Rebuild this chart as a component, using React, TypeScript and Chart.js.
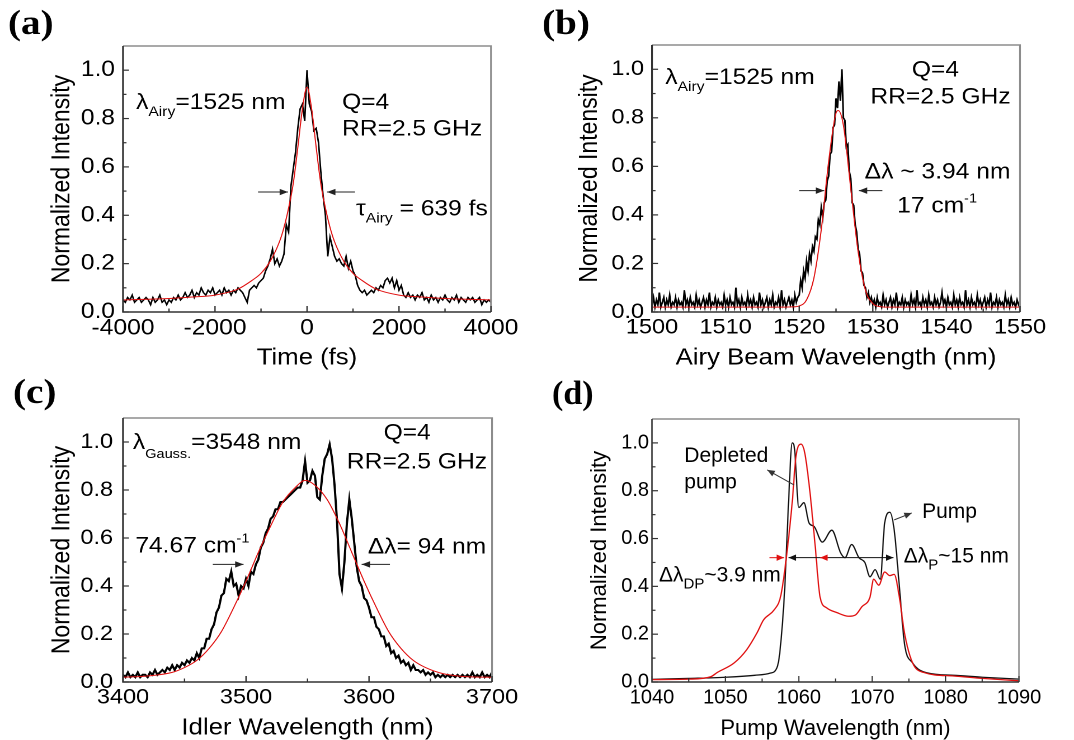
import React, { useEffect, useRef } from "react";
import { Chart, registerables } from "chart.js";

Chart.register(...registerables);

const SANS = '"Liberation Sans", Arial, Helvetica, sans-serif';
const SERIF = '"Liberation Serif", "Times New Roman", serif';

// ---------------- shared y axis ----------------
const intensityTicks = [0, 0.2, 0.4, 0.6, 0.8, 1.0];
const intensityMinorTicks = [0.1, 0.3, 0.5, 0.7, 0.9];

// ---------------- (a) temporal profile ----------------
const timeStartFs = -4000;
const timeStepFs = 50;
const airyPulse = [
  0.05, 0.04, 0.06, 0.05, 0.07, 0.04, 0.05, 0.06, 0.04, 0.05, 0.06, 0.05, 0.03, 0.06, 0.04, 0.05, 0.07, 0.04, 0.05, 0.03, 0.05,
  0.04, 0.06, 0.05, 0.07, 0.05, 0.06, 0.08, 0.06, 0.07, 0.09, 0.06, 0.08, 0.07, 0.10, 0.08, 0.07, 0.09, 0.08, 0.10, 0.07,
  0.08, 0.09, 0.07, 0.10, 0.08, 0.09, 0.07, 0.09, 0.08, 0.10, 0.09, 0.08, 0.06, 0.04, 0.09, 0.10, 0.11, 0.10, 0.12, 0.13,
  0.14, 0.17, 0.19, 0.22, 0.26, 0.20, 0.22, 0.19, 0.21,
  0.24, 0.36, 0.33, 0.52, 0.59, 0.66, 0.76, 0.84, 0.86, 0.79,
  1.0,
  0.86, 0.83, 0.75, 0.76, 0.70, 0.58, 0.48, 0.40, 0.23, 0.31,
  0.27, 0.23, 0.21, 0.22, 0.20, 0.19, 0.23, 0.18, 0.21, 0.17,
  0.15, 0.11, 0.09, 0.08, 0.09, 0.07, 0.08, 0.09, 0.08, 0.10,
  0.09, 0.11, 0.10, 0.13, 0.14, 0.12, 0.14, 0.10, 0.13, 0.09,
  0.11, 0.07, 0.06, 0.08, 0.06, 0.07, 0.05, 0.07, 0.06, 0.08,
  0.05, 0.06, 0.04, 0.07, 0.05, 0.06, 0.04, 0.06, 0.05, 0.07,
  0.05, 0.04, 0.06, 0.05, 0.07, 0.04, 0.06, 0.05, 0.04, 0.06,
  0.05, 0.06, 0.04, 0.05, 0.06, 0.03, 0.05, 0.04, 0.05, 0.04,
];
const airyPulseFitTime = [-4000, -3000, -2500, -2000, -1500, -1200, -1000, -800, -600, -500, -400, -300, -200, -100, 0, 100, 200, 300, 400, 500, 600, 800, 1000, 1200, 1500, 2000, 2500, 3000, 4000];
const airyPulseFit = [0.05, 0.056, 0.062, 0.07, 0.095, 0.13, 0.16, 0.21, 0.29, 0.35, 0.43, 0.53, 0.68, 0.84, 0.93, 0.84, 0.68, 0.53, 0.43, 0.35, 0.29, 0.21, 0.16, 0.13, 0.095, 0.07, 0.062, 0.056, 0.05];
const timeTicks = [-4000, -2000, 0, 2000, 4000];
const timeMinorTicks = [-3000, -1000, 1000, 3000];

// ---------------- (b) Airy beam spectrum ----------------
const airyWlStart = 1500;
const airyWlStep = 0.2;
const airySpectrum = [
  0.03, 0.06, 0.02, 0.05, 0.03, 0.08, 0.02, 0.04, 0.06, 0.02,
  0.05, 0.03, 0.07, 0.02, 0.04, 0.03, 0.06, 0.02, 0.05, 0.03,
  0.04, 0.02, 0.09, 0.03, 0.05, 0.02, 0.06, 0.03, 0.04, 0.02,
  0.07, 0.03, 0.05, 0.02, 0.04, 0.06, 0.02, 0.05, 0.03, 0.08,
  0.02, 0.04, 0.03, 0.06, 0.02, 0.05, 0.03, 0.04, 0.02, 0.07,
  0.03, 0.05, 0.02, 0.06, 0.03, 0.04, 0.02, 0.10, 0.03, 0.05,
  0.02, 0.06, 0.03, 0.04, 0.02, 0.07, 0.03, 0.05, 0.02, 0.06,
  0.03, 0.04, 0.02, 0.08, 0.03, 0.05, 0.02, 0.04, 0.06, 0.02,
  0.05, 0.03, 0.07, 0.02, 0.04, 0.03, 0.06, 0.02, 0.09, 0.03,
  0.05, 0.02, 0.04, 0.06, 0.03, 0.05, 0.02, 0.07, 0.04, 0.06,
  0.07, 0.13, 0.10, 0.17, 0.14, 0.21, 0.17, 0.24, 0.21, 0.27,
  0.25, 0.31, 0.30, 0.38, 0.36, 0.43, 0.39, 0.45, 0.46, 0.54,
  0.56, 0.65, 0.66, 0.76, 0.77, 0.88, 0.84, 0.95, 0.87, 1.00,
  0.80, 0.79, 0.68, 0.69, 0.58, 0.55, 0.45, 0.44, 0.36, 0.33,
  0.26, 0.24, 0.17, 0.16, 0.11, 0.10, 0.06, 0.08, 0.04, 0.06,
  0.03,
  0.05, 0.02, 0.06, 0.03, 0.04, 0.02, 0.07, 0.03, 0.05, 0.02,
  0.04, 0.06, 0.02, 0.05, 0.03, 0.08, 0.02, 0.04, 0.03, 0.06,
  0.02, 0.05, 0.03, 0.04, 0.02, 0.07, 0.03, 0.05, 0.02, 0.09,
  0.03, 0.04, 0.02, 0.06, 0.03, 0.05, 0.02, 0.07, 0.03, 0.04,
  0.02, 0.06, 0.03, 0.05, 0.02, 0.04, 0.08, 0.03, 0.05, 0.02,
  0.06, 0.03, 0.04, 0.02, 0.07, 0.03, 0.05, 0.02, 0.06, 0.03,
  0.04, 0.02, 0.09, 0.03, 0.05, 0.02, 0.06, 0.03, 0.04, 0.02,
  0.07, 0.03, 0.05, 0.02, 0.04, 0.06, 0.02, 0.05, 0.03, 0.08,
  0.02, 0.04, 0.03, 0.06, 0.02, 0.05, 0.03, 0.04, 0.02, 0.07,
  0.03, 0.05, 0.02, 0.06, 0.03, 0.04, 0.02, 0.05, 0.03, 0.04,
];
const airyFitWl = [1500, 1510, 1518, 1519, 1520, 1521, 1522, 1523, 1524, 1525, 1525.3, 1526, 1527, 1528, 1529, 1530, 1531, 1532, 1540, 1550];
const airyFit = [0.02, 0.02, 0.02, 0.021, 0.025, 0.05, 0.14, 0.34, 0.62, 0.82, 0.83, 0.77, 0.51, 0.25, 0.09, 0.035, 0.022, 0.02, 0.02, 0.02];
const airyWlTicks = [1500, 1510, 1520, 1530, 1540, 1550];
const airyWlMinorTicks = [1505, 1515, 1525, 1535, 1545];

// ---------------- (c) idler spectrum ----------------
const idlerWlStart = 3400;
const idlerWlStep = 2;
const idlerSpectrum = [
  0.03, 0.02, 0.04, 0.02, 0.03, 0.02, 0.04, 0.02, 0.03, 0.03,
  0.02, 0.04, 0.03, 0.05, 0.03, 0.04, 0.05, 0.04, 0.06, 0.05,
  0.07, 0.05, 0.07, 0.06, 0.08, 0.07, 0.09, 0.08, 0.10, 0.09,
  0.12, 0.10, 0.14, 0.14, 0.18, 0.18, 0.22, 0.24, 0.29, 0.31,
  0.36, 0.37, 0.43, 0.42, 0.46, 0.40, 0.41, 0.36, 0.40, 0.39,
  0.43, 0.40, 0.46, 0.45, 0.49, 0.51, 0.56, 0.58, 0.62, 0.64,
  0.68, 0.69, 0.72, 0.72, 0.75, 0.75, 0.76, 0.77, 0.78, 0.79,
  0.80, 0.81, 0.81, 0.84, 0.92, 0.83, 0.84, 0.88, 0.86, 0.77,
  0.76, 0.86, 0.93, 0.95, 0.99, 0.93, 0.82, 0.67, 0.45, 0.39,
  0.50, 0.66, 0.76, 0.68, 0.58, 0.48, 0.42, 0.40, 0.35, 0.34,
  0.31, 0.27, 0.27, 0.23, 0.22, 0.19, 0.19, 0.15, 0.16, 0.12,
  0.13, 0.10, 0.11, 0.08, 0.09, 0.07, 0.08, 0.05, 0.07, 0.05,
  0.05, 0.04, 0.05, 0.03, 0.04, 0.03, 0.04, 0.02, 0.03, 0.02,
  0.03, 0.02, 0.03, 0.02, 0.03, 0.02, 0.03, 0.02, 0.03, 0.02,
  0.03, 0.02, 0.04, 0.02, 0.03, 0.02, 0.04, 0.02, 0.03, 0.02,
  0.04,
];
const idlerFitWl = [3400, 3420, 3440, 3450, 3460, 3470, 3480, 3490, 3500, 3510, 3520, 3530, 3540, 3548, 3556, 3566, 3576, 3586, 3596, 3606, 3616, 3626, 3636, 3646, 3660, 3680, 3700];
const idlerFit = [0.02, 0.025, 0.04, 0.06, 0.09, 0.14, 0.21, 0.31, 0.42, 0.54, 0.65, 0.75, 0.81, 0.84, 0.82, 0.76, 0.66, 0.54, 0.42, 0.31, 0.21, 0.14, 0.09, 0.06, 0.035, 0.022, 0.02];
const idlerTicks = [3400, 3500, 3600, 3700];
const idlerMinorTicks = [3450, 3550, 3650];

// ---------------- (d) pump spectra ----------------
const pumpWl = [1040, 1045, 1050, 1054, 1056.1, 1057.0, 1057.4, 1058.1, 1058.6, 1059.1, 1059.4, 1060.0, 1060.7, 1061.4, 1062.1, 1063.2, 1064.5, 1065.7, 1066.3, 1067.2, 1068.2, 1069.0, 1069.7, 1070.4, 1071.1, 1071.7, 1072.4, 1073.0, 1073.7, 1074.4, 1075.5, 1077.5, 1081.1, 1085, 1090];
const pumpSpectrum = [0.011, 0.015, 0.02, 0.028, 0.037, 0.058, 0.12, 0.40, 0.75, 1.0, 0.98, 0.73, 0.75, 0.665, 0.65, 0.585, 0.635, 0.54, 0.52, 0.575, 0.52, 0.50, 0.44, 0.47, 0.43, 0.665, 0.71, 0.635, 0.40, 0.16, 0.08, 0.038, 0.028, 0.02, 0.012];
const depletedWl = [1040, 1045, 1048, 1048.9, 1051.2, 1052.9, 1054.3, 1055.2, 1056.6, 1057.5, 1058.1, 1059.1, 1059.6, 1060.3, 1060.8, 1061.5, 1062.2, 1062.9, 1063.8, 1065.2, 1066.8, 1067.7, 1068.6, 1069.7, 1070.2, 1070.9, 1071.7, 1072.4, 1073.0, 1073.7, 1074.4, 1075.5, 1077.0, 1081.1, 1085, 1090];
const depletedSpectrum = [0.01, 0.012, 0.022, 0.04, 0.08, 0.135, 0.205, 0.26, 0.30, 0.355, 0.47, 0.75, 0.94, 0.995, 0.96, 0.80, 0.58, 0.355, 0.31, 0.29, 0.275, 0.28, 0.315, 0.355, 0.43, 0.405, 0.46, 0.445, 0.45, 0.355, 0.205, 0.08, 0.04, 0.025, 0.015, 0.005];
const pumpTicks = [1040, 1050, 1060, 1070, 1080, 1090];
const pumpMinorTicks = [1045, 1055, 1065, 1075, 1085];

// ---------------- helpers ----------------
type Pt = { x: number; y: number };
const sampled = (start: number, step: number, ys: number[]): Pt[] => ys.map((y, i) => ({ x: start + i * step, y }));
const paired = (xs: number[], ys: number[]): Pt[] => xs.map((x, i) => ({ x, y: ys[i] }));

type Run = { t: string; size?: number; dy?: number };
type Note =
  | { kind: "text"; x: number; y: number; runs: Run[]; align?: "left" | "center" }
  | { kind: "arrow"; x1: number; y1: number; x2: number; y2: number; color?: string; both?: boolean };

interface Series { points: Pt[]; color: string; width: number; smooth: boolean }
interface PanelSpec {
  stretch: number;
  series: Series[];
  xMin: number; xMax: number; xTicks: number[]; xMinor: number[];
  xTitle: string; yTitle: string;
  tickSize: number; titleSize: number; yTitleSize: number; noteSize: number;
  area: { left: number; top: number; right: number };
  yTitleCenter: number; xTickPad: number; yTickGap: number;
  label: string; labelX: number; labelY: number; labelSize: number;
  notes: Note[];
}

const sub = (t: string, size = 14, dy = 7): Run => ({ t, size, dy });
const sup = (t: string, size = 13, dy = -10): Run => ({ t, size, dy });

const STRETCH = 537 / 480;
const W = 537;
const H = 370;

const panelA: PanelSpec = {
  stretch: STRETCH,
  series: [
    { points: paired(airyPulseFitTime, airyPulseFit), color: "#e01010", width: 1, smooth: true },
    { points: sampled(timeStartFs, timeStepFs, airyPulse), color: "#000", width: 1.4, smooth: false },
  ],
  xMin: -4000, xMax: 4000, xTicks: timeTicks, xMinor: timeMinorTicks,
  xTitle: "Time (fs)", yTitle: "Normalized Intensity",
  tickSize: 22, titleSize: 23, yTitleSize: 23, noteSize: 22,
  area: { left: 123, top: 46, right: 491 }, yTitleCenter: 62, xTickPad: 3, yTickGap: 8,
  label: "(a)", labelX: 8, labelY: 34, labelSize: 35,
  notes: [
    { kind: "text", x: -3717, y: 0.84, runs: [{ t: "λ" }, sub("Airy"), { t: "=1525 nm" }] },
    { kind: "text", x: 761, y: 0.84, runs: [{ t: "Q=4" }] },
    { kind: "text", x: 761, y: 0.73, runs: [{ t: "RR=2.5 GHz" }] },
    { kind: "text", x: 1065, y: 0.4, runs: [{ t: "τ" }, sub("Airy"), { t: " = 639 fs" }] },
    { kind: "arrow", x1: -1065, y1: 0.496, x2: -413, y2: 0.496 },
    { kind: "arrow", x1: 1043, y1: 0.496, x2: 435, y2: 0.496 },
  ],
};

const panelB: PanelSpec = {
  stretch: STRETCH,
  series: [
    { points: paired(airyFitWl, airyFit), color: "#e01010", width: 1, smooth: true },
    { points: sampled(airyWlStart, airyWlStep, airySpectrum), color: "#000", width: 1.5, smooth: false },
  ],
  xMin: 1500, xMax: 1550, xTicks: airyWlTicks, xMinor: airyWlMinorTicks,
  xTitle: "Airy Beam Wavelength (nm)", yTitle: "Normalized Intensity",
  tickSize: 21, titleSize: 23, yTitleSize: 23, noteSize: 22,
  area: { left: 115, top: 45, right: 483 }, yTitleCenter: 53, xTickPad: 3, yTickGap: 8,
  label: "(b)", labelX: 5, labelY: 34, labelSize: 35,
  notes: [
    { kind: "text", x: 1501.8, y: 0.94, runs: [{ t: "λ" }, sub("Airy"), { t: "=1525 nm" }] },
    { kind: "text", x: 1538.5, y: 0.97, runs: [{ t: "Q=4" }], align: "center" },
    { kind: "text", x: 1539.2, y: 0.86, runs: [{ t: "RR=2.5 GHz" }], align: "center" },
    { kind: "text", x: 1528.9, y: 0.55, runs: [{ t: "Δλ ~ 3.94 nm" }] },
    { kind: "text", x: 1533.3, y: 0.41, runs: [{ t: "17 cm" }, sup("-1")] },
    { kind: "arrow", x1: 1520.0, y1: 0.5, x2: 1523.4, y2: 0.5 },
    { kind: "arrow", x1: 1531.3, y1: 0.5, x2: 1528.1, y2: 0.5 },
  ],
};

const panelC: PanelSpec = {
  stretch: STRETCH,
  series: [
    { points: paired(idlerFitWl, idlerFit), color: "#e01010", width: 1, smooth: true },
    { points: sampled(idlerWlStart, idlerWlStep, idlerSpectrum), color: "#000", width: 2, smooth: false },
  ],
  xMin: 3400, xMax: 3700, xTicks: idlerTicks, xMinor: idlerMinorTicks,
  xTitle: "Idler Wavelength (nm)", yTitle: "Normalized Intensity",
  tickSize: 21, titleSize: 23, yTitleSize: 23, noteSize: 22,
  area: { left: 123, top: 48, right: 492 }, yTitleCenter: 62, xTickPad: 3, yTickGap: 10,
  label: "(c)", labelX: 13, labelY: 33, labelSize: 35,
  notes: [
    { kind: "text", x: 3408, y: 0.97, runs: [{ t: "λ" }, sub("Gauss.", 13, 9), { t: "=3548 nm" }] },
    { kind: "text", x: 3631, y: 1.01, runs: [{ t: "Q=4" }], align: "center" },
    { kind: "text", x: 3639, y: 0.89, runs: [{ t: "RR=2.5 GHz" }], align: "center" },
    { kind: "text", x: 3410, y: 0.54, runs: [{ t: "74.67 cm" }, sup("-1")] },
    { kind: "text", x: 3599, y: 0.535, runs: [{ t: "Δλ= 94 nm" }] },
    { kind: "arrow", x1: 3473, y1: 0.49, x2: 3498, y2: 0.49 },
    { kind: "arrow", x1: 3617, y1: 0.49, x2: 3594, y2: 0.49 },
  ],
};

const panelD: PanelSpec = {
  stretch: 1,
  series: [
    { points: paired(depletedWl, depletedSpectrum), color: "#e01010", width: 1.3, smooth: true },
    { points: paired(pumpWl, pumpSpectrum), color: "#111", width: 1.3, smooth: true },
  ],
  xMin: 1040, xMax: 1090, xTicks: pumpTicks, xMinor: pumpMinorTicks,
  xTitle: "Pump Wavelength (nm)", yTitle: "Normalized Intensity",
  tickSize: 20, titleSize: 22, yTitleSize: 22, noteSize: 21,
  area: { left: 115, top: 49, right: 482 }, yTitleCenter: 63, xTickPad: 4, yTickGap: 3,
  label: "(d)", labelX: 15, labelY: 34, labelSize: 34,
  notes: [
    { kind: "text", x: 1044.4, y: 0.92, runs: [{ t: "Depleted" }] },
    { kind: "text", x: 1044.4, y: 0.81, runs: [{ t: "pump" }] },
    { kind: "arrow", x1: 1059.35, y1: 0.824, x2: 1055.7, y2: 0.887, color: "#333" },
    { kind: "text", x: 1076.8, y: 0.686, runs: [{ t: "Pump" }] },
    { kind: "arrow", x1: 1073.0, y1: 0.678, x2: 1075.4, y2: 0.707, color: "#333" },
    { kind: "text", x: 1074.3, y: 0.5, runs: [{ t: "Δλ" }, sub("P", 15, 7), { t: "~15 nm" }] },
    { kind: "text", x: 1040.95, y: 0.42, runs: [{ t: "Δλ" }, sub("DP", 15, 7), { t: "~3.9 nm" }] },
    { kind: "arrow", x1: 1058.6, y1: 0.52, x2: 1072.9, y2: 0.52, color: "#111", both: true },
    { kind: "arrow", x1: 1056.0, y1: 0.52, x2: 1058.0, y2: 0.52, color: "#e01010" },
    { kind: "arrow", x1: 1064.0, y1: 0.52, x2: 1062.9, y2: 0.52, color: "#e01010" },
  ],
};

function arrowHead(ctx: CanvasRenderingContext2D, x1: number, y1: number, x2: number, y2: number) {
  const a = Math.atan2(y2 - y1, x2 - x1);
  const L = 7.5;
  const hw = 3.2;
  ctx.beginPath();
  ctx.moveTo(x2, y2);
  ctx.lineTo(x2 - L * Math.cos(a) + hw * Math.sin(a), y2 - L * Math.sin(a) - hw * Math.cos(a));
  ctx.lineTo(x2 - L * Math.cos(a) - hw * Math.sin(a), y2 - L * Math.sin(a) + hw * Math.cos(a));
  ctx.closePath();
  ctx.fill();
}

function makeDecor(p: PanelSpec) {
  return {
    id: "panelDecor",
    afterDatasetsDraw(chart: any) {
      const ctx: CanvasRenderingContext2D = chart.ctx;
      const ca = chart.chartArea;
      const xs = chart.scales.x;
      const ys = chart.scales.y;
      ctx.save();
      // frame
      ctx.lineWidth = 1.6;
      ctx.strokeStyle = "#8c8c8c";
      ctx.beginPath();
      ctx.moveTo(ca.left, ca.top);
      ctx.lineTo(ca.right, ca.top);
      ctx.lineTo(ca.right, ca.bottom);
      ctx.stroke();
      ctx.strokeStyle = "#333";
      ctx.beginPath();
      ctx.moveTo(ca.left, ca.top);
      ctx.lineTo(ca.left, ca.bottom);
      ctx.lineTo(ca.right, ca.bottom);
      ctx.stroke();
      // inward ticks
      ctx.lineWidth = 1.2;
      const xt = (vals: number[], len: number) => {
        for (const v of vals) {
          const px = xs.getPixelForValue(v);
          ctx.beginPath();
          ctx.moveTo(px, ca.bottom);
          ctx.lineTo(px, ca.bottom - len);
          ctx.stroke();
        }
      };
      const yt = (vals: number[], len: number) => {
        for (const v of vals) {
          const py = ys.getPixelForValue(v);
          ctx.beginPath();
          ctx.moveTo(ca.left, py);
          ctx.lineTo(ca.left + len / p.stretch, py);
          ctx.stroke();
        }
      };
      xt(p.xTicks, 6);
      xt(p.xMinor, 3.5);
      yt(intensityTicks, 6);
      yt(intensityMinorTicks, 3.5);
      // notes
      for (const n of p.notes) {
        if (n.kind === "arrow") {
          const x1 = xs.getPixelForValue(n.x1);
          const y1 = ys.getPixelForValue(n.y1);
          const x2 = xs.getPixelForValue(n.x2);
          const y2 = ys.getPixelForValue(n.y2);
          const c = n.color || "#222";
          ctx.strokeStyle = c;
          ctx.fillStyle = c;
          ctx.lineWidth = 1;
          ctx.beginPath();
          ctx.moveTo(x1, y1);
          ctx.lineTo(x2, y2);
          ctx.stroke();
          arrowHead(ctx, x1, y1, x2, y2);
          if (n.both) arrowHead(ctx, x2, y2, x1, y1);
        } else {
          const px = xs.getPixelForValue(n.x);
          const py = ys.getPixelForValue(n.y);
          ctx.textBaseline = "alphabetic";
          ctx.textAlign = "left";
          ctx.fillStyle = "#000";
          const fontOf = (r: Run) => `${r.size ?? p.noteSize}px ${SANS}`;
          let total = 0;
          for (const r of n.runs) {
            ctx.font = fontOf(r);
            total += ctx.measureText(r.t).width;
          }
          let cx = n.align === "center" ? px - total / 2 : px;
          for (const r of n.runs) {
            ctx.font = fontOf(r);
            ctx.fillText(r.t, cx, py + (r.dy ?? 0));
            cx += ctx.measureText(r.t).width;
          }
        }
      }
      // panel label
      ctx.font = `bold ${p.labelSize}px ${SERIF}`;
      ctx.fillStyle = "#000";
      ctx.textAlign = "left";
      ctx.textBaseline = "alphabetic";
      ctx.fillText(p.label, p.labelX / p.stretch, p.labelY);
      ctx.restore();
    },
  };
}

function buildConfig(p: PanelSpec): any {
  const lw = Math.round(W / p.stretch);
  const s = p.stretch;
  return {
    type: "line",
    data: {
      datasets: p.series.map((sr) => ({
        data: sr.points,
        borderColor: sr.color,
        borderWidth: sr.width,
        pointRadius: 0,
        fill: false,
        tension: 0,
        cubicInterpolationMode: sr.smooth ? "monotone" : "default",
      })),
    },
    options: {
      animation: false,
      responsive: false,
      devicePixelRatio: 2,
      events: [],
      layout: { padding: { left: 0, top: p.area.top, right: lw - p.area.right / s, bottom: 0 } },
      plugins: { legend: { display: false }, tooltip: { enabled: false } },
      scales: {
        x: {
          type: "linear",
          min: p.xMin,
          max: p.xMax,
          afterBuildTicks: (sc: any) => {
            sc.ticks = p.xTicks.map((v) => ({ value: v }));
          },
          afterFit: (sc: any) => {
            sc.height = H - 312;
          },
          grid: { display: false, drawTicks: false },
          border: { display: false },
          ticks: {
            autoSkip: false,
            maxRotation: 0,
            minRotation: 0,
            padding: p.xTickPad,
            color: "#000",
            font: { family: SANS, size: p.tickSize },
            callback: (v: any) => String(v),
          },
          title: {
            display: true,
            text: p.xTitle,
            color: "#000",
            font: { family: SANS, size: p.titleSize },
            padding: { top: 0, bottom: -2 },
          },
        },
        y: {
          type: "linear",
          min: 0,
          max: 1.1,
          afterBuildTicks: (sc: any) => {
            sc.ticks = intensityTicks.map((v) => ({ value: v }));
          },
          afterFit: (sc: any) => {
            sc.width = p.area.left / s;
          },
          grid: { display: false, drawTicks: false },
          border: { display: false },
          ticks: {
            autoSkip: false,
            padding: p.yTickGap / s,
            color: "#000",
            font: { family: SANS, size: p.tickSize },
            callback: (v: any) => Number(v).toFixed(1),
          },
          title: {
            display: true,
            text: p.yTitle,
            color: "#000",
            font: { family: SANS, size: p.yTitleSize },
            padding: { top: p.yTitleCenter / s - (p.yTitleSize * 1.2) / 2, bottom: 0 },
          },
        },
      },
    },
    plugins: [makeDecor(p)],
  };
}

function Panel({ spec, left, top }: { spec: PanelSpec; left: number; top: number }) {
  const ref = useRef<HTMLCanvasElement | null>(null);
  useEffect(() => {
    if (!ref.current) return;
    const chart = new Chart(ref.current, buildConfig(spec));
    return () => chart.destroy();
  }, [spec]);
  return (
    <canvas
      ref={ref}
      width={Math.round(W / spec.stretch)}
      height={H}
      style={{ position: "absolute", left, top, width: W + "px", height: H + "px", display: "block" }}
    />
  );
}

export default function App() {
  return (
    <div style={{ position: "absolute", left: 0, top: 0, width: 1074, height: 740, background: "#fff", overflow: "hidden" }}>
      <Panel spec={panelA} left={0} top={0} />
      <Panel spec={panelB} left={537} top={0} />
      <Panel spec={panelC} left={0} top={370} />
      <Panel spec={panelD} left={537} top={370} />
    </div>
  );
}
